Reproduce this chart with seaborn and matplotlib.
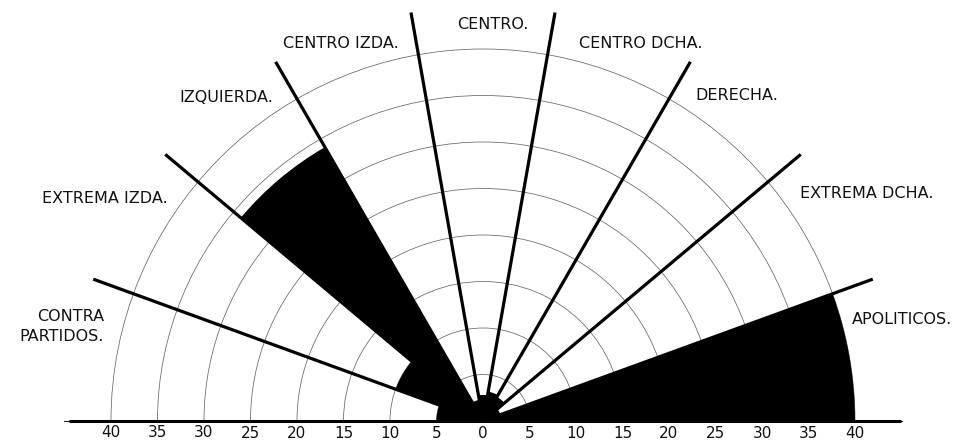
import numpy as np
import pandas as pd
import matplotlib
matplotlib.use("Agg")
import matplotlib.pyplot as plt
import seaborn as sns

# ---------------- data ----------------
categories = ["CONTRA\nPARTIDOS.", "EXTREMA IZDA.", "IZQUIERDA.", "CENTRO IZDA.",
              "CENTRO.", "CENTRO DCHA.", "DERECHA.", "EXTREMA DCHA.", "APOLITICOS."]
values = [5.0, 10.0, 34.0, 2.3, 2.8, 3.2, 3.0, 2.0, 40.0]
radial_ticks = [0, 5, 10, 15, 20, 25, 30, 35, 40]
tick_labels = ["0", "5", "10", "15", "20", "25", "30", "35", "40"]

# ---------------- layout ----------------
W, H, DPI = 9.56, 4.42, 100
FW, FH = W * DPI, H * DPI
CX, CY = 483, 421            # centre in pixels (from top-left)
PX_PER_UNIT = 9.3
RMAX = 45.0
LINE_R = 44.6
# label anchor positions (theta in degrees, radius in data units)
label_theta = [167.3, 149.5, 128.5, 110.6, 88.6, 67.4, 52.1, 30.7, 13.6]
label_r = [46.4, 47.2, 44.4, 43.4, 42.6, 44.0, 44.4, 48.0, 46.3]

sns.set_style("white")
plt.rcParams["font.family"] = ["DejaVu Sans"]

fig = plt.figure(figsize=(W, H), dpi=DPI)
rpx = RMAX * PX_PER_UNIT
# square box (equal aspect); the half disc is centred vertically in it
side = 2 * rpx
mid_y = CY - rpx / 2                 # vertical middle of half disc (from top)
box_top = mid_y - side / 2
ax = fig.add_axes([(CX - rpx) / FW, (FH - (box_top + side)) / FH,
                   side / FW, side / FH], projection="polar")
ax.set_thetamin(0)
ax.set_thetamax(180)

n = len(categories)
step = np.pi / n
theta_centres = np.pi - step * (np.arange(n) + 0.5)
df = pd.DataFrame({"theta": theta_centres, "value": values, "cat": categories})

# bars (sectors)
ax.bar(df["theta"], df["value"], width=step, color="black", edgecolor="none",
       align="center", zorder=2)

ax.set_ylim(0, RMAX)
ax.set_axisbelow(True)
ax.set_rgrids(radial_ticks[1:], labels=[""] * (len(radial_ticks) - 1))
ax.set_xticks([])
ax.yaxis.grid(True, color="#666666", linewidth=0.55)
ax.xaxis.grid(False)
for sp in ax.spines.values():
    sp.set_visible(False)
ax.set_facecolor("white")

# sector boundary lines
for k in range(1, n):
    t = k * step
    ax.plot([t, t], [0, LINE_R], color="black", linewidth=2.3,
            solid_capstyle="butt", zorder=3, clip_on=False)

# baseline
ax.plot([0, 0], [0, 44.8], color="black", linewidth=2.2, zorder=3, clip_on=False)
ax.plot([np.pi, np.pi], [0, 44.4], color="black", linewidth=2.2, zorder=3, clip_on=False)

# tick labels on both sides of the baseline
for r, lab in zip(radial_ticks, tick_labels):
    sides = [0.0] if r == 0 else [0.0, np.pi]
    for th in sides:
        ax.annotate(lab, xy=(th, r), xytext=(0, -12), textcoords="offset pixels",
                    ha="center", va="center", fontsize=11, color="#111111",
                    annotation_clip=False)

# category labels
for cat, th, r in zip(categories, label_theta, label_r):
    ax.text(np.deg2rad(th), r, cat, ha="center", va="center", fontsize=11.5,
            color="#111111", multialignment="right", linespacing=1.4)

fig.savefig("out.png", dpi=DPI, facecolor="white")
